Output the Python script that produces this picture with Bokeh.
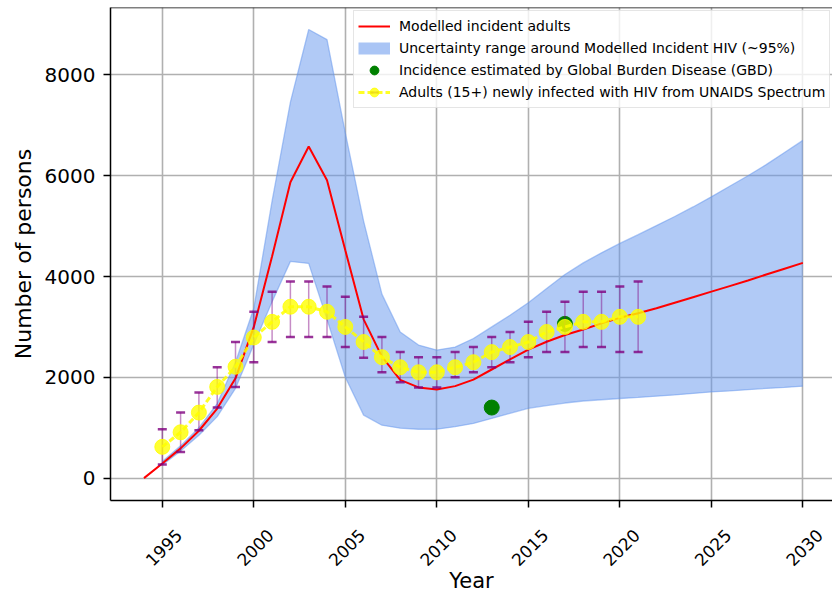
import numpy as np
from bokeh.plotting import figure
from bokeh.models import Range1d, FixedTicker, Legend, LegendItem, Span
from bokeh.embed import file_html
from bokeh.resources import INLINE

# ---------------- data ----------------
model_years = list(range(1994, 2031))
model_adults = [0, 290, 590, 940, 1380, 1980, 3000, 4400, 5870, 6580, 5910, 4520,
                3150, 2410, 1950, 1800, 1760, 1825, 1955, 2155, 2355, 2550, 2705,
                2840, 2950, 3070, 3180, 3270, 3370, 3480, 3590, 3700, 3810, 3920,
                4040, 4155, 4270]

band_years = list(range(1995, 2031))
band_upper = [330, 640, 1000, 1480, 2300, 3370, 5500, 7460, 8900, 8700, 6850, 5100,
              3650, 2900, 2640, 2540, 2600, 2770, 3000, 3230, 3480, 3760, 4040, 4270,
              4470, 4656, 4830, 5010, 5190, 5380, 5580, 5790, 6000, 6220, 6460, 6700]
band_lower = [260, 540, 850, 1220, 1780, 2650, 3500, 4300, 4260, 3150, 2000, 1250,
              1050, 990, 970, 970, 1020, 1085, 1185, 1285, 1385, 1440, 1490, 1530,
              1555, 1580, 1600, 1625, 1650, 1680, 1710, 1730, 1755, 1780, 1800, 1825]

unaids_years = list(range(1995, 2022))
unaids_value = [620, 910, 1300, 1810, 2210, 2790, 3100, 3400, 3400, 3300, 3000, 2700,
                2400, 2200, 2100, 2100, 2200, 2300, 2500, 2600, 2700, 2900, 3000, 3100,
                3100, 3200, 3200]
unaids_upper = [970, 1300, 1700, 2200, 2700, 3300, 3700, 3900, 3900, 3800, 3600, 3200,
                2800, 2500, 2400, 2400, 2500, 2600, 2800, 2900, 3100, 3300, 3500, 3700,
                3700, 3800, 3900]
unaids_lower = [270, 520, 950, 1400, 1810, 2300, 2700, 2800, 2800, 2800, 2600, 2390,
                2100, 1900, 1800, 1800, 2000, 2100, 2200, 2300, 2400, 2500, 2500, 2600,
                2600, 2500, 2500]

gbd_years = [2013, 2017]
gbd_value = [1400, 3060]

x_ticks = [1995, 2000, 2005, 2010, 2015, 2020, 2025, 2030]
y_ticks = [0, 2000, 4000, 6000, 8000]

# ---------------- figure ----------------
FONT = "DejaVu Sans"
Y_TOP = 9337
p = figure(width=832, height=596, output_backend="svg", toolbar_location=None,
           x_range=Range1d(1992.17, 2031.62), y_range=Range1d(-444, Y_TOP),
           min_border_left=110, min_border_right=0, min_border_top=7,
           min_border_bottom=96, background_fill_color="white",
           border_fill_color="white")
p.outline_line_color = None

band_color = "cornflowerblue"
band = p.varea(x=band_years, y1=band_lower, y2=band_upper,
               fill_color=band_color, fill_alpha=0.5)
p.line(band_years, band_upper, line_color=band_color, line_alpha=0.5, line_width=1.3)
p.line(band_years, band_lower, line_color=band_color, line_alpha=0.5, line_width=1.3)

red = p.line(model_years, model_adults, line_color="red", line_width=2)

green = p.scatter(gbd_years, gbd_value, size=15, fill_color="green",
                  line_color="green", marker="circle")

purple = "purple"
p.segment(x0=unaids_years, y0=unaids_lower, x1=unaids_years, y1=unaids_upper,
          line_color=purple, line_alpha=0.45, line_width=1.5)
p.scatter(unaids_years, unaids_upper, marker="dash", size=9, line_color=purple,
          line_alpha=0.8, line_width=2.5)
p.scatter(unaids_years, unaids_lower, marker="dash", size=9, line_color=purple,
          line_alpha=0.8, line_width=2.5)
yl = p.line(unaids_years, unaids_value, line_color="yellow", line_width=3,
            line_dash="6 3", line_alpha=0.85)
yc = p.scatter(unaids_years, unaids_value, size=15, marker="circle",
               fill_color="yellow", line_color="yellow", fill_alpha=0.8,
               line_alpha=0.8)

# legend-only glyphs (no visible data)
band_key = p.line(x=[np.nan], y=[np.nan], line_color=band_color, line_alpha=0.55,
                  line_width=12)
ybar = p.scatter(x=[np.nan], y=[np.nan], marker="dash", angle=np.pi / 2, size=16,
                 line_color=purple, line_alpha=0.7, line_width=2)

p.add_layout(Span(location=Y_TOP, dimension="width", line_color="black",
                  line_width=1.5))

# axes
for ax in (p.xaxis[0], p.yaxis[0]):
    ax.axis_line_color = "black"
    ax.axis_line_width = 1.5
    ax.major_tick_line_color = "black"
    ax.major_tick_line_width = 1.5
    ax.major_tick_out = 7
    ax.major_tick_in = 0
    ax.minor_tick_line_color = None
    ax.major_label_text_color = "black"
    ax.major_label_text_font = FONT
    ax.axis_label_text_color = "black"
    ax.axis_label_text_font = FONT
    ax.axis_label_text_font_style = "normal"

p.xaxis.ticker = FixedTicker(ticks=x_ticks)
p.yaxis.ticker = FixedTicker(ticks=y_ticks)
p.xaxis.major_label_orientation = np.pi / 4
# leading blank lines push each rotated year label so it sits centred under its tick
p.xaxis.major_label_overrides = {t: "\n\n" + str(t) for t in x_ticks}
p.xaxis.major_label_text_font_size = "17px"
p.xaxis.major_label_standoff = 8
p.xaxis.axis_label = "Year"
p.xaxis.axis_label_text_font_size = "21px"
p.xaxis.axis_label_standoff = -28
p.yaxis.major_label_text_font_size = "20px"
p.yaxis.major_label_standoff = 8
p.yaxis.axis_label = "Number of persons"
p.yaxis.axis_label_text_font_size = "22px"
p.yaxis.axis_label_standoff = 6

p.xgrid.ticker = FixedTicker(ticks=x_ticks)
p.ygrid.ticker = FixedTicker(ticks=y_ticks)
p.grid.grid_line_color = "#b0b0b0"
p.grid.grid_line_width = 1.6

legend = Legend(items=[
    LegendItem(label="Modelled incident adults", renderers=[red]),
    LegendItem(label="Uncertainty range around Modelled Incident HIV (~95%)", renderers=[band_key]),
    LegendItem(label="Incidence estimated by Global Burden Disease (GBD)", renderers=[green]),
    LegendItem(label="Adults (15+) newly infected with HIV from UNAIDS Spectrum",
               renderers=[yl, ybar, yc]),
], location=(243, 392))
legend.label_text_font = FONT
legend.label_text_font_size = "14px"
legend.label_text_color = "black"
legend.padding = 4
legend.spacing = 0
legend.margin = 0
legend.glyph_height = 22
legend.label_height = 22
legend.glyph_width = 32
legend.label_standoff = 9
legend.border_line_color = "#cccccc"
legend.border_line_width = 1
legend.background_fill_color = "white"
legend.background_fill_alpha = 0.8
p.add_layout(legend)

open("out.html", "w").write(file_html(p, INLINE))
